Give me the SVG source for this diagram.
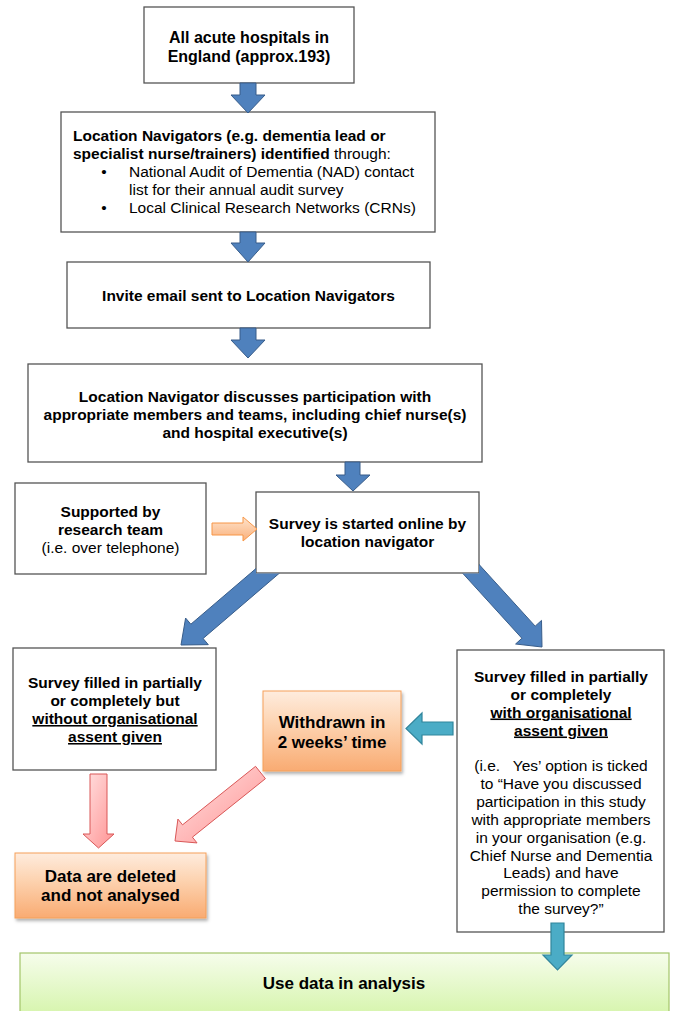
<svg xmlns="http://www.w3.org/2000/svg" width="673" height="1011" viewBox="0 0 673 1011">
<style>
.box{fill:#fff;stroke:#555;stroke-width:1.3}
.t{font-family:"Liberation Sans",Arial,sans-serif;font-size:15.5px;fill:#000;text-anchor:middle}
.b{font-weight:bold}
.l{text-anchor:start}
.u{text-decoration:underline}
.blue{fill:#4f81bd;stroke:#385d8a;stroke-width:1}
.teal{fill:#4bacc6;stroke:#31859c;stroke-width:1.2}
.pink{fill:url(#gPink);stroke:#d95757;stroke-width:1}
.obox{fill:url(#gOrange);stroke:#f5a05a;stroke-width:1;filter:url(#sh)}
</style>
<defs>
<linearGradient id="gOrange" x1="0" y1="0" x2="0" y2="1">
<stop offset="0" stop-color="#feecde"/>
<stop offset="0.4" stop-color="#fdd4b2"/>
<stop offset="1" stop-color="#f9ab72"/>
</linearGradient>
<linearGradient id="gOrArrow" x1="0" y1="0" x2="0" y2="1">
<stop offset="0" stop-color="#fee3cc"/>
<stop offset="1" stop-color="#fab07a"/>
</linearGradient>
<linearGradient id="gPink" x1="0" y1="0" x2="1" y2="1">
<stop offset="0" stop-color="#ffe2e2"/>
<stop offset="1" stop-color="#ff9393"/>
</linearGradient>
<linearGradient id="gGreen" x1="0" y1="0" x2="0" y2="1">
<stop offset="0" stop-color="#f6fdec"/>
<stop offset="1" stop-color="#cdf29a"/>
</linearGradient>
<filter id="sh" x="-10%" y="-10%" width="130%" height="140%">
<feDropShadow dx="1.5" dy="2.5" stdDeviation="1.5" flood-color="#000" flood-opacity="0.3"/>
</filter>
<clipPath id="outBox6">
<path clip-rule="evenodd" d="M0 0H673V1011H0Z M256 492H479V573.5H256Z"/>
</clipPath>
</defs>

<g id="n1">
<rect class="box" x="144" y="7" width="210" height="76"/>
<text class="t b" style="font-size:16px" x="249" y="43">All acute hospitals in</text>
<text class="t b" style="font-size:16px" x="249" y="62">England (approx.193)</text>
</g>

<g id="n2">
<rect class="box" x="61" y="112" width="374" height="120"/>
<text class="t b l" x="73" y="141">Location Navigators (e.g. dementia lead or</text>
<text class="t l" x="73" y="159"><tspan class="b">specialist nurse/trainers) identified</tspan> through:</text>
<text class="t" x="104" y="177">•</text>
<text class="t l" x="129" y="177">National Audit of Dementia (NAD) contact</text>
<text class="t l" x="129" y="195">list for their annual audit survey</text>
<text class="t" x="104" y="213">•</text>
<text class="t l" x="129" y="213">Local Clinical Research Networks (CRNs)</text>
</g>

<g id="n3">
<rect class="box" x="67" y="262" width="363" height="66"/>
<text class="t b" x="248.5" y="301">Invite email sent to Location Navigators</text>
</g>

<g id="n4">
<rect class="box" x="28" y="364" width="454" height="98"/>
<text class="t b" x="255" y="402">Location Navigator discusses participation with</text>
<text class="t b" x="255" y="420">appropriate members and teams, including chief nurse(s)</text>
<text class="t b" x="255" y="438">and hospital executive(s)</text>
</g>

<g id="n5">
<rect class="box" x="15" y="483" width="191" height="91"/>
<text class="t b" x="110.5" y="517">Supported by</text>
<text class="t b" x="110.5" y="535">research team</text>
<text class="t" x="110.5" y="553">(i.e. over telephone)</text>
</g>

<g id="n6">
<rect class="box" x="256" y="492" width="223" height="81"/>
<text class="t b" x="367.5" y="529">Survey is started online by</text>
<text class="t b" x="367.5" y="547">location navigator</text>
</g>

<g id="n7">
<rect class="box" x="13" y="648" width="203" height="122"/>
<text class="t b" x="115" y="688">Survey filled in partially</text>
<text class="t b" x="115" y="706">or completely but</text>
<text class="t b u" x="115" y="724">without organisational</text>
<text class="t b u" x="115" y="742">assent given</text>
</g>

<g id="n8">
<rect class="box" x="457" y="650" width="207" height="282"/>
<text class="t b" x="561" y="681.5">Survey filled in partially</text>
<text class="t b" x="561" y="699.5">or completely</text>
<text class="t b u" x="561" y="717.5">with organisational</text>
<text class="t b u" x="561" y="735.5">assent given</text>
<text class="t" x="561" y="770.5" style="white-space:pre">(i.e.   Yes’ option is ticked</text>
<text class="t" x="561" y="788.5">to “Have you discussed</text>
<text class="t" x="561" y="806.5">participation in this study</text>
<text class="t" x="561" y="824.5">with appropriate members</text>
<text class="t" x="561" y="842.5">in your organisation (e.g.</text>
<text class="t" x="561" y="860.5">Chief Nurse and Dementia</text>
<text class="t" x="561" y="878">Leads) and have</text>
<text class="t" x="561" y="896">permission to complete</text>
<text class="t" x="561" y="914">the survey?”</text>
</g>

<g id="n9">
<rect class="obox" x="263" y="691" width="138" height="80"/>
<text class="t b" style="font-size:17px" x="332" y="728">Withdrawn in</text>
<text class="t b" style="font-size:17px" x="332" y="748">2 weeks’ time</text>
</g>

<g id="n10">
<rect class="obox" x="15" y="853" width="191" height="65"/>
<text class="t b" style="font-size:17px" x="110.5" y="882">Data are deleted</text>
<text class="t b" style="font-size:17px" x="110.5" y="901">and not analysed</text>
</g>

<g id="n11">
<rect x="20" y="953" width="649" height="80" fill="url(#gGreen)" stroke="#a3c56a" stroke-width="1.2"/>
<text class="t b" style="font-size:17px" x="344" y="989">Use data in analysis</text>
</g>

<g id="connectors">
<polygon class="blue" points="240,83 256,83 256,95 265,95 248,113 231,95 240,95"/>
<polygon class="blue" points="240,232 256,232 256,243 265,243 248,262 231,243 240,243"/>
<polygon class="blue" points="240,328 256,328 256,340 265,340 248,358 231,340 240,340"/>
<polygon class="blue" points="345,462 360,462 360,475 370,475 353,491 336,475 345,475"/>
<polygon points="212,523 243,523 243,517 257,529 243,541 243,535 212,535" fill="url(#gOrArrow)" stroke="#f79646" stroke-width="1"/>
<g clip-path="url(#outBox6)">
<polygon class="blue" points="273.7,553.4 190.85,624.2 185.6,618.05 181,645 208.3,644.65 203.07,638.5 285.9,567.6"/>
<polygon class="blue" points="454.14,563.86 521.88,638.27 515.6,644 542,647 541.5,620.4 535.2,626.15 467.46,551.74"/>
</g>
<polygon class="teal" points="453,722 422,722 422,713 406,728.5 422,744 422,735 453,735"/>
<polygon class="pink" points="90,774 107,774 107,834 114,834 98.5,848 83,834 90,834"/>
<polygon class="pink" points="255.56,766.34 182.54,824.84 177.92,819.07 175,841 197.04,842.93 192.42,837.16 265.44,778.66"/>
<polygon class="teal" points="551,923 564,923 564,955 572,955 557.5,970 543,955 551,955"/>
</g>
</svg>
